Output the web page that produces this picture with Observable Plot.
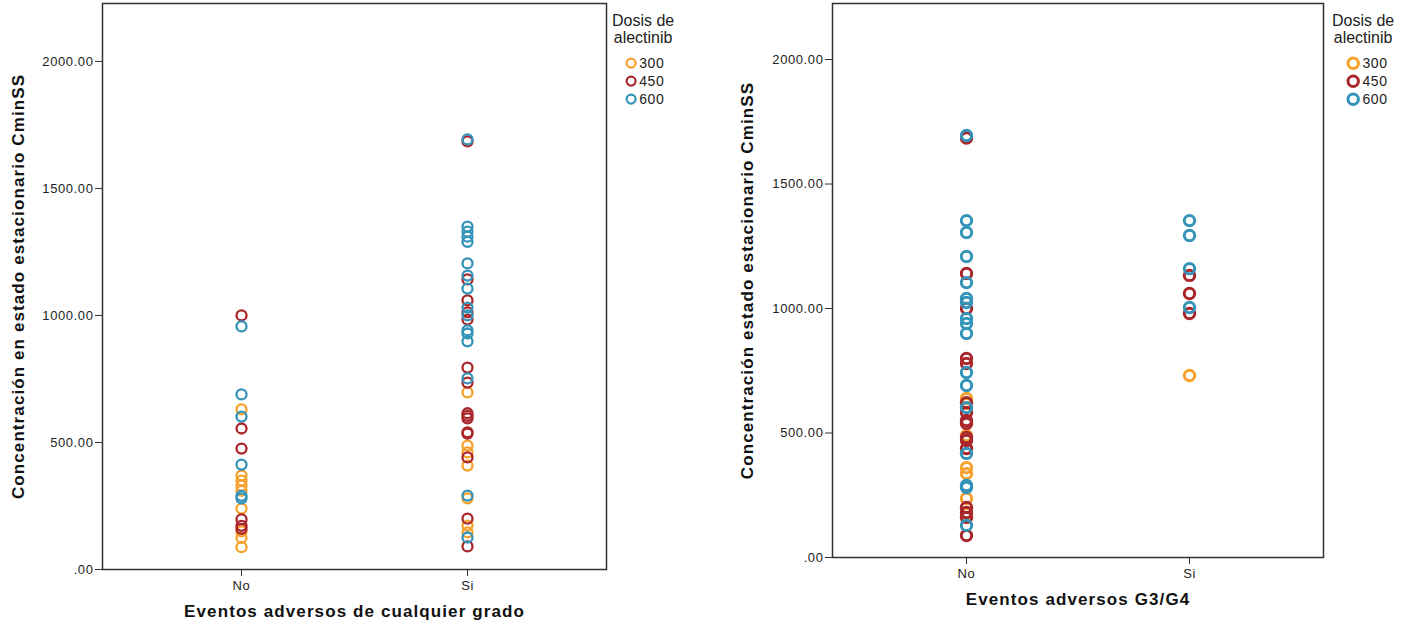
<!DOCTYPE html>
<html>
<head>
<meta charset="utf-8">
<script src="https://cdn.jsdelivr.net/npm/d3@7"></script>
<script src="https://cdn.jsdelivr.net/npm/@observablehq/plot@0.6"></script>
<style>
  html, body { margin: 0; padding: 0; background: #fff; }
  #wrap { position: relative; width: 1410px; height: 630px; overflow: hidden; font-family: "Liberation Sans", Arial, sans-serif; }
  .panel { position: absolute; top: 0; }
  .legend { position: absolute; color: #222; font-family: "Liberation Sans", Arial, sans-serif; }
  .legend .title { font-size: 16px; line-height: 17px; text-align: center; }
  .legend .item { display: flex; align-items: center; font-size: 14px; letter-spacing: 0.6px; height: 18px; }
</style>
</head>
<body>
<div id="wrap"></div>
<script>
// ---- data ----
const groups = ["No", "Si"];
const doses = ["300", "450", "600"];
const doseColors = ["#f7a12c", "#a9262b", "#3393b8"];
const yTicks = [0, 500, 1000, 1500, 2000];

// Left panel: Eventos adversos de cualquier grado
const leftNo300 = [630, 370, 350, 330, 310, 240, 150, 125, 88];
const leftNo450 = [1000, 555, 476, 197, 172, 160];
const leftNo600 = [957, 689, 602, 413, 290, 280];
const leftSi300 = [697, 488, 461, 409, 280, 173, 146];
const leftSi450 = [1685, 1142, 1059, 1012, 984, 795, 736, 615, 605, 595, 540, 535, 441, 200, 91];
const leftSi600 = [1693, 1350, 1330, 1310, 1290, 1205, 1157, 1106, 1031, 1000, 941, 929, 898, 752, 291, 126];

// Right panel: Eventos adversos G3/G4
const rightNo300 = [639, 618, 490, 361, 337, 237, 177];
const rightNo450 = [1685, 1141, 1000, 799, 779, 622, 582, 550, 538, 482, 470, 438, 201, 181, 161, 88];
const rightNo600 = [1695, 1353, 1305, 1209, 1104, 1040, 1024, 960, 940, 900, 743, 691, 602, 418, 289, 281, 129];
const rightSi300 = [731];
const rightSi450 = [1133, 1060, 980];
const rightSi600 = [1353, 1293, 1160, 1004];

function rows(spec) {
  const out = [];
  for (const [grp, dose, vals] of spec) for (const v of vals) out.push({grp, dose, v});
  return out;
}
const leftData = rows([
  ["No", "300", leftNo300], ["No", "450", leftNo450], ["No", "600", leftNo600],
  ["Si", "300", leftSi300], ["Si", "450", leftSi450], ["Si", "600", leftSi600]
]);
const rightData = rows([
  ["No", "300", rightNo300], ["No", "450", rightNo450], ["No", "600", rightNo600],
  ["Si", "300", rightSi300], ["Si", "450", rightSi450], ["Si", "600", rightSi600]
]);

const fmt = d => d === 0 ? ".00" : d.toFixed(2);

function panel(o) {
  const svg = Plot.plot({
    width: o.width, height: 630,
    marginLeft: o.ml, marginRight: o.mr, marginTop: 3, marginBottom: o.mb,
    style: {fontFamily: "Liberation Sans, Arial, sans-serif", fontSize: "13px", color: "#222", background: "transparent", overflow: "visible"},
    x: {type: "point", domain: groups, padding: o.pad, label: null},
    y: {domain: [0, o.ymax], label: null},
    color: {domain: doses, range: doseColors},
    marks: [
      Plot.axisY({ticks: yTicks, tickFormat: fmt, tickSize: 7, tickPadding: 2, label: null, stroke: "#333"}),
      Plot.axisX({tickSize: 7, tickPadding: 4, label: null, stroke: "#333"}),
      Plot.dot(o.data, {x: "grp", y: "v", stroke: "dose", r: o.r, strokeWidth: o.sw, fill: "none"}),
      Plot.frame({stroke: "#333", strokeWidth: 1.5}),
      Plot.text([o.ylabel], {frameAnchor: "left", dx: o.ydx, rotate: -90, fontSize: 17, fontWeight: "bold", fill: "#111", textAnchor: "middle"}),
      Plot.text([o.xlabel], {frameAnchor: "bottom", dy: o.xdy, fontSize: 17, fontWeight: "bold", fill: "#111", textAnchor: "middle"})
    ]
  });
  d3.select(svg).selectAll("g[aria-label='text'] text").style("letter-spacing", "1.1px");
  d3.select(svg).selectAll("g[aria-label='y-axis tick label'] text, g[aria-label='x-axis tick label'] text").style("letter-spacing", "0.6px");
  const div = document.createElement("div");
  div.className = "panel";
  div.style.left = o.left + "px";
  div.appendChild(svg);
  document.getElementById("wrap").appendChild(div);
}

panel({left: 0, width: 620, ml: 102, mr: 14, mb: 61, pad: 0.615, ymax: 2228, data: leftData,
  r: 5, sw: 2.3, ydx: -84, xdy: 47,
  ylabel: "Concentración en estado estacionario CminSS", xlabel: "Eventos adversos de cualquier grado"});
panel({left: 720, width: 620, ml: 112, mr: 17, mb: 73, pad: 0.6, ymax: 2225, data: rightData,
  r: 5.2, sw: 3, ydx: -85, xdy: 47,
  ylabel: "Concentración estado estacionario CminSS", xlabel: "Eventos adversos G3/G4"});

function legend(left, top, r, sw, fs) {
  const lg = document.createElement("div");
  lg.className = "legend";
  lg.style.left = left + "px";
  lg.style.top = top + "px";
  lg.innerHTML = `<div class="title">Dosis de<br>alectinib</div>`;
  const items = document.createElement("div");
  items.style.marginTop = "8px";
  items.style.paddingLeft = (left < 1000 ? 13 : 14) + "px";
  doses.forEach((d, i) => {
    const it = document.createElement("div");
    it.className = "item";
    it.style.fontSize = fs + "px";
    const s = 2 * r + sw + 1;
    it.innerHTML = `<svg width="${s}" height="${s}" style="margin-right:2px"><circle cx="${s/2}" cy="${s/2}" r="${r}" fill="none" stroke="${doseColors[i]}" stroke-width="${sw}"></circle></svg>${d}`;
    items.appendChild(it);
  });
  lg.appendChild(items);
  document.getElementById("wrap").appendChild(lg);
}
legend(612, 12, 4.5, 2.2, 14);
legend(1332, 12, 5.2, 3, 14);
</script>
</body>
</html>
